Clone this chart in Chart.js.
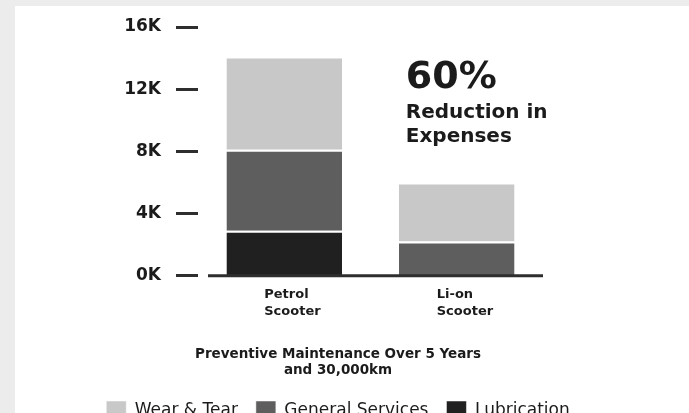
<!DOCTYPE html>
<html>
<head>
<meta charset="utf-8">
<script src="https://cdn.jsdelivr.net/npm/chart.js@4.4.1/dist/chart.umd.min.js"></script>
<style>
  html, body { margin: 0; padding: 0; width: 689px; height: 413px; overflow: hidden; background: #ececec; }
  #card { position: absolute; left: 15px; top: 6px; width: 674px; height: 430px; background: #fff; }
  #wrap { position: absolute; left: 0; top: 0; width: 646px; height: 430px; }
</style>
</head>
<body>
<div id="card"><div id="wrap"><canvas id="chart" width="646" height="430"></canvas></div></div>
<script>
const categories = [['Petrol', 'Scooter'], ['Li-on', 'Scooter']];
const lubrication = [2900, 0];
const generalServices = [5200, 2200];
const wearAndTear = [6000, 3800];
const yTicks = [0, 4000, 8000, 12000, 16000];

const inkColor = '#1b1b1b';
const fontFace = '"DejaVu Sans", sans-serif';

// baseline + the "60%" callout
const callout = {
    id: 'callout',
    afterDatasetsDraw(chart) {
        const { ctx, chartArea, scales: { x, y } } = chart;
        const y0 = y.getPixelForValue(0);
        ctx.save();
        ctx.strokeStyle = '#2e2e2e';
        ctx.lineWidth = 3;
        ctx.beginPath();
        ctx.moveTo(chartArea.left + 10, y0);
        ctx.lineTo(chartArea.right, y0);
        ctx.stroke();

        const tx = x.getPixelForValue(1) - 51;
        ctx.fillStyle = inkColor;
        ctx.textAlign = 'left';
        ctx.textBaseline = 'alphabetic';
        ctx.font = 'bold 38px ' + fontFace;
        ctx.fillText('60%', tx, chartArea.top + 61);
        ctx.font = 'bold 20px ' + fontFace;
        ctx.fillText('Reduction in', tx, chartArea.top + 91);
        ctx.fillText('Expenses', tx, chartArea.top + 115);
        ctx.restore();
    }
};

new Chart(document.getElementById('chart'), {
    type: 'bar',
    data: {
        labels: categories,
        datasets: [{
            label: 'Lubrication',
            data: lubrication,
            backgroundColor: '#202020'
        }, {
            label: 'General Services',
            data: generalServices,
            backgroundColor: '#5e5e5e'
        }, {
            label: 'Wear & Tear',
            data: wearAndTear,
            backgroundColor: '#c8c8c8'
        }]
    },
    options: {
        responsive: false,
        animation: false,
        datasets: {
            bar: {
                categoryPercentage: 1,
                barPercentage: 0.67,
                borderColor: '#ffffff',
                borderWidth: { top: 2, left: 0, right: 0, bottom: 0 },
                borderSkipped: false
            }
        },
        layout: { padding: { top: 21, left: 0, right: 0, bottom: 5 } },
        scales: {
            x: {
                stacked: true,
                grid: { display: false, drawTicks: false },
                border: { display: false },
                ticks: {
                    color: inkColor,
                    font: { family: fontFace, size: 13, weight: 'bold', lineHeight: 1.3 },
                    padding: 10,
                    align: 'start',
                    labelOffset: -20
                }
            },
            y: {
                stacked: true,
                min: 0,
                max: 16000,
                afterBuildTicks: (axis) => { axis.ticks = yTicks.map(v => ({ value: v })); },
                afterFit: (axis) => {
                    axis.width = 183;
                    axis.paddingTop = 0;
                    axis.paddingBottom = 0;
                },
                grid: { drawOnChartArea: false, drawTicks: true, tickLength: 22, tickWidth: 3, tickColor: '#2e2e2e' },
                border: { display: false },
                ticks: {
                    color: inkColor,
                    font: { family: fontFace, size: 17, weight: 'bold' },
                    padding: 15,
                    callback: (v) => (v / 1000) + 'K'
                }
            },
            // empty right-hand axis, only keeps the plot narrow
            gutter: {
                axis: 'y',
                position: 'right',
                min: 0,
                max: 16000,
                afterFit: (axis) => {
                    axis.width = 118;
                    axis.paddingTop = 0;
                    axis.paddingBottom = 0;
                },
                grid: { display: false },
                border: { display: false },
                ticks: { display: false }
            }
        },
        plugins: {
            tooltip: { enabled: false },
            title: {
                display: true,
                position: 'bottom',
                weight: 1000,
                text: ['Preventive Maintenance Over 5 Years', 'and 30,000km'],
                color: inkColor,
                font: { family: fontFace, size: 13.5, weight: 'bold', lineHeight: 1.2 },
                padding: { top: 17, bottom: 4 }
            },
            legend: {
                position: 'bottom',
                weight: 3000,
                reverse: true,
                labels: {
                    color: inkColor,
                    boxWidth: 20,
                    boxHeight: 20,
                    padding: 18,
                    font: { family: fontFace, size: 17 }
                }
            }
        }
    },
    plugins: [callout]
});
</script>
</body>
</html>
